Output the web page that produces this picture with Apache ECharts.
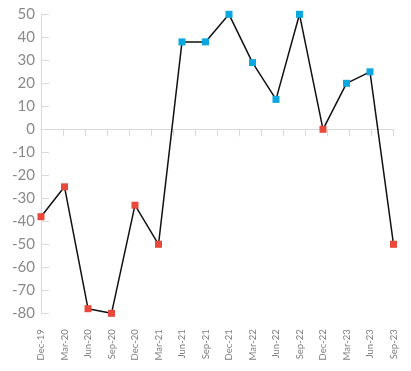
<!DOCTYPE html>
<html><head><meta charset="utf-8">
<script src="https://cdn.jsdelivr.net/npm/echarts@6/dist/echarts.min.js"></script>
<style>html,body{margin:0;padding:0;background:#fff}#c{width:411px;height:371px}</style>
</head><body><div id="c"></div>
<script>
const categories = ["Dec-19","Mar-20","Jun-20","Sep-20","Dec-20","Mar-21","Jun-21","Sep-21","Dec-21","Mar-22","Jun-22","Sep-22","Dec-22","Mar-23","Jun-23","Sep-23"];
const values = [-38,-25,-78,-80,-33,-50,38,38,50,29,13,50,0,20,25,-50];
const yMin = -80, yMax = 50, yStep = 10;
const posColor = '#0ba7df', negColor = '#e8493a';
const chart = echarts.init(document.getElementById('c'));
chart.setOption({
  animation:false,
  grid:{left:41,right:17.5,top:14.3,bottom:57.7,containLabel:false},
  xAxis:[{
    type:'category',data:categories,boundaryGap:false,position:'bottom',
    axisLine:{show:false,onZero:false},axisTick:{show:false},
    axisLabel:{rotate:90,fontSize:9.5,color:'#808080',fontFamily:'Lato',margin:16,interval:0}
  },{
    type:'category',data:categories.map(()=> ''),boundaryGap:true,position:'bottom',
    axisLine:{show:true,onZero:true,lineStyle:{color:'#d9d9d9',width:1}},
    axisTick:{show:true,length:7,lineStyle:{color:'#d9d9d9'},interval:0},
    axisLabel:{show:false}
  }],
  yAxis:{type:'value',min:yMin,max:yMax,interval:yStep,
    axisLine:{show:true,lineStyle:{color:'#d9d9d9'}},
    axisTick:{show:true,inside:true,length:8,lineStyle:{color:'#d9d9d9'}},
    splitLine:{show:false},
    axisLabel:{fontSize:15,color:'#8a8a8a',fontFamily:'Lato',margin:6}
  },
  series:[{type:'line',xAxisIndex:0,data:values.map(v=>({value:v,itemStyle:{color:v>0?posColor:negColor}})),
    symbol:'rect',symbolSize:7,lineStyle:{color:'#111',width:1.5},z:3}]
});
</script></body></html>
